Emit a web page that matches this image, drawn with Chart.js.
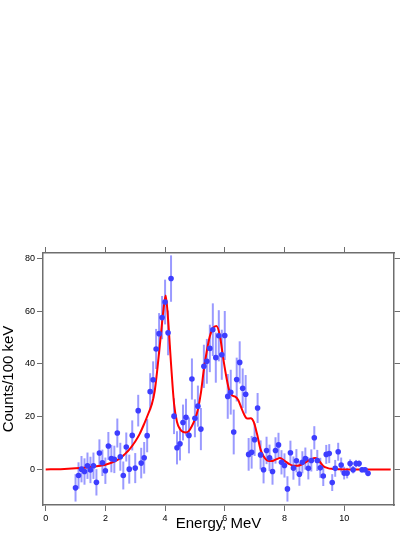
<!DOCTYPE html>
<html>
<head>
<meta charset="utf-8">
<script src="https://cdn.jsdelivr.net/npm/chart.js@4.4.0/dist/chart.umd.min.js"></script>
<style>
  body { margin: 0; background: #fff; }
  canvas { display: block; }
</style>
</head>
<body>
<canvas id="chartSpectre" width="415" height="537"></canvas>
<script>
const chartSpectre = document.getElementById("chartSpectre");

// Données mesurées (énergie en MeV, coups / 100 keV, erreur)
const energies = [1.0, 1.1, 1.2, 1.3, 1.4, 1.5, 1.6, 1.7, 1.8, 1.9,
	2.0, 2.1, 2.2, 2.3, 2.4, 2.5, 2.6, 2.7, 2.8, 2.9,
	3.0, 3.1, 3.2, 3.3, 3.4, 3.5, 3.6, 3.7, 3.8, 3.9,
	4.0, 4.1, 4.2, 4.3, 4.4, 4.5, 4.6, 4.7, 4.8, 4.9,
	5.0, 5.1, 5.2, 5.3, 5.4, 5.5, 5.6, 5.7, 5.8, 5.9,
	6.0, 6.1, 6.2, 6.3, 6.4, 6.5, 6.6, 6.7, 6.8, 6.9,
	7.0, 7.1, 7.2, 7.3, 7.4, 7.5, 7.6, 7.7, 7.8, 7.9,
	8.0, 8.1, 8.2, 8.3, 8.4, 8.5, 8.6, 8.7, 8.8, 8.9,
	9.0, 9.1, 9.2, 9.3, 9.4, 9.5, 9.6, 9.7, 9.8, 9.9,
	10.0, 10.1, 10.2, 10.3, 10.4, 10.5, 10.6, 10.7, 10.8];

const counts = [-7, -2.3, 0.1, -0.8, 1.4, -0.2, 1.4, -4.9, 6.2, 2.5,
	-0.5, 8.9, 4.1, 3.8, 13.8, 4.8, -2.3, 8.5, 0.1, 12.9,
	0.5, 22.3, 2.4, 4.4, 12.8, 29.5, 34, 45.7, 51.5, 57.6,
	63.5, 51.8, 72.4, 20.2, 8.2, 9.7, 17.8, 19.8, 12.9, 34.3,
	19.4, 24, 15.3, 39.1, 41, 45.9, 53, 42.4, 50.7, 43.5,
	50.8, 27.7, 29.3, 14.2, 34.1, 40.6, 30.8, 28.5, 5.7, 6.5,
	11.3, 23.3, 5.5, -0.1, 7.2, 4.4, -0.8, 7.2, 9.3, 2.7,
	1.5, -7.4, 6.3, 0.5, 3.3, -1.8, 2.7, 4.1, 0.4, 3.4,
	12, 3.4, 0.6, -2.5, 5.7, 6, -5, 0.4, 6.7, 1.7,
	-1.4, -1.4, 2.2, -0.1, 2.2, 2.2, -0.1, -0.1, -1.5];

const errors = [5.2, 5, 5, 5, 5, 5, 5, 5, 5.2, 5,
	5, 5.3, 5.2, 5.2, 5.5, 5.3, 5.3, 5.5, 5.5, 5.7,
	5.7, 6, 5.8, 6, 6.3, 7, 7, 7.6, 7.8, 8.2,
	8.5, 8.5, 8.8, 6.8, 6.3, 6.3, 6.8, 7, 6.8, 7.8,
	7.2, 7.8, 8, 8.2, 8.5, 9, 10, 9.5, 9.7, 9.5,
	9.3, 8.5, 8.5, 8.5, 8.3, 8, 7.5, 7.3, 6.2, 6.2,
	6.2, 5.7, 5.5, 5.2, 5.2, 5, 5, 5, 4.6, 4.6,
	4.6, 4.8, 4.6, 4.4, 4.4, 4.4, 4.2, 4.2, 4.2, 4.2,
	4.4, 4, 3.8, 3.8, 3.6, 3.6, 3.2, 3.2, 3.4, 2.8,
	2.4, 2, 1.6, 1.4, 1.4, 1.2, 1, 1, 1];

// Courbe d'ajustement
const fitEnergies = [0, 0.5, 1.0, 1.5, 2.0, 2.3, 2.5, 2.65, 2.8, 3.0,
	3.15, 3.3, 3.45, 3.55, 3.65, 3.75, 3.85, 3.95, 4.02, 4.1,
	4.2, 4.3, 4.4, 4.5, 4.6, 4.7, 4.8, 4.9, 5.0, 5.1,
	5.2, 5.3, 5.4, 5.5, 5.6, 5.72, 5.84, 5.95, 6.07, 6.15,
	6.25, 6.35, 6.45, 6.55, 6.65, 6.75, 6.87, 6.97, 7.08, 7.2,
	7.3, 7.4, 7.5, 7.6, 7.7, 7.85, 8.0, 8.15, 8.3, 8.45,
	8.6, 8.75, 8.9, 9.03, 9.15, 9.3, 9.45, 9.6, 9.8, 10.1,
	10.6, 11.56];

const fitCounts = [0, 0.1, 0.4, 0.9, 1.8, 3.0, 4.3, 5.8, 7.5, 10.6,
	13.5, 17.3, 21.5, 24.5, 29.5, 39, 50, 61, 66, 57,
	40, 25, 18, 15.3, 14.2, 14, 14.6, 16.5, 19, 22.7,
	29, 38, 45, 50.5, 53.5, 54.4, 50.5, 42, 34, 30,
	28, 27.6, 26.3, 23.5, 20.8, 19.3, 19.4, 18, 13.5, 7.5,
	5.0, 3.6, 3.2, 3.2, 3.7, 4.3, 3.3, 2.1, 1.4, 1.4,
	2.0, 3.0, 3.9, 4.3, 3.4, 1.3, 0.5, 0.2, 0.1, 0,
	0, 0];

const xTicks = [0, 2, 4, 6, 8, 10];
const yTicks = [0, 20, 40, 60, 80];

const pointsData = energies.map(function(e, i){ return {x: e, y: counts[i]}; });
const fitData = fitEnergies.map(function(e, i){ return {x: e, y: fitCounts[i]}; });

const axisColor = "#6e6e6e";

// barres d'erreur dessinées avec les échelles du graphique
const errorBars = {
	id: "errorBars",
	beforeDatasetsDraw(chart) {
		const ctx = chart.ctx;
		const xs = chart.scales.x;
		const ys = chart.scales.y;
		ctx.save();
		ctx.strokeStyle = "rgba(100,100,255,0.65)";
		ctx.lineWidth = 2;
		energies.forEach(function(e, i){
			const px = xs.getPixelForValue(e);
			ctx.beginPath();
			ctx.moveTo(px, ys.getPixelForValue(counts[i] - errors[i]));
			ctx.lineTo(px, ys.getPixelForValue(counts[i] + errors[i]));
			ctx.stroke();
		});
		ctx.restore();
	}
};

function fixTicks(list) {
	return function(scale){ scale.ticks = list.map(function(v){ return {value: v}; }); };
}

const spectreChart = new Chart(chartSpectre, {
	type: "scatter",
	data: {
		datasets: [{
			data: pointsData,
			backgroundColor: "#3d3dff",
			borderWidth: 0,
			pointRadius: 2.8,
			showLine: false
		}, {
			type: "line",
			data: fitData,
			borderColor: "#ff0000",
			borderWidth: 2,
			pointRadius: 0,
			fill: false,
			cubicInterpolationMode: "monotone"
		}]
	},
	options: {
		responsive: false,
		animation: false,
		layout: {
			padding: { top: 246, right: 14, bottom: 0, left: 0 }
		},
		plugins: {
			legend: { display: false },
			tooltip: { enabled: false }
		},
		scales: {
			x: {
				type: "linear",
				position: "bottom",
				min: -0.09,
				max: 11.67,
				afterBuildTicks: fixTicks(xTicks),
				afterFit: function(s){ s.height = 32; },
				grid: { drawOnChartArea: false, tickLength: 6, color: axisColor },
				border: { color: axisColor, width: 1.5 },
				ticks: { font: { family: "Liberation Sans", size: 9 }, color: "#000", padding: 2, maxRotation: 0 },
				title: {
					display: true,
					text: "Energy, MeV",
					font: { family: "Liberation Sans", size: 15 },
					color: "#000",
					padding: { top: 0, bottom: 4 }
				}
			},
			x2: {
				type: "linear",
				position: "top",
				min: -0.09,
				max: 11.67,
				afterBuildTicks: fixTicks(xTicks),
				afterFit: function(s){ s.height = 7; },
				grid: { drawOnChartArea: false, tickLength: 6, color: axisColor },
				border: { color: axisColor, width: 1.5 },
				ticks: { display: false }
			},
			y: {
				type: "linear",
				position: "left",
				min: -13.5,
				max: 82.1,
				afterBuildTicks: fixTicks(yTicks),
				afterFit: function(s){ s.width = 43; },
				grid: { drawOnChartArea: false, tickLength: 6, color: axisColor },
				border: { color: axisColor, width: 1.5 },
				ticks: { font: { family: "Liberation Sans", size: 9 }, color: "#000", padding: 2 },
				title: {
					display: true,
					text: "Counts/100 keV",
					font: { family: "Liberation Sans", size: 15 },
					color: "#000",
					padding: { top: 0, bottom: 0 }
				}
			},
			y2: {
				type: "linear",
				position: "right",
				min: -13.5,
				max: 82.1,
				afterBuildTicks: fixTicks(yTicks),
				afterFit: function(s){ s.width = 7; },
				grid: { drawOnChartArea: false, tickLength: 6, color: axisColor },
				border: { color: axisColor, width: 1.5 },
				ticks: { display: false }
			}
		}
	},
	plugins: [errorBars]
});
</script>
</body>
</html>
